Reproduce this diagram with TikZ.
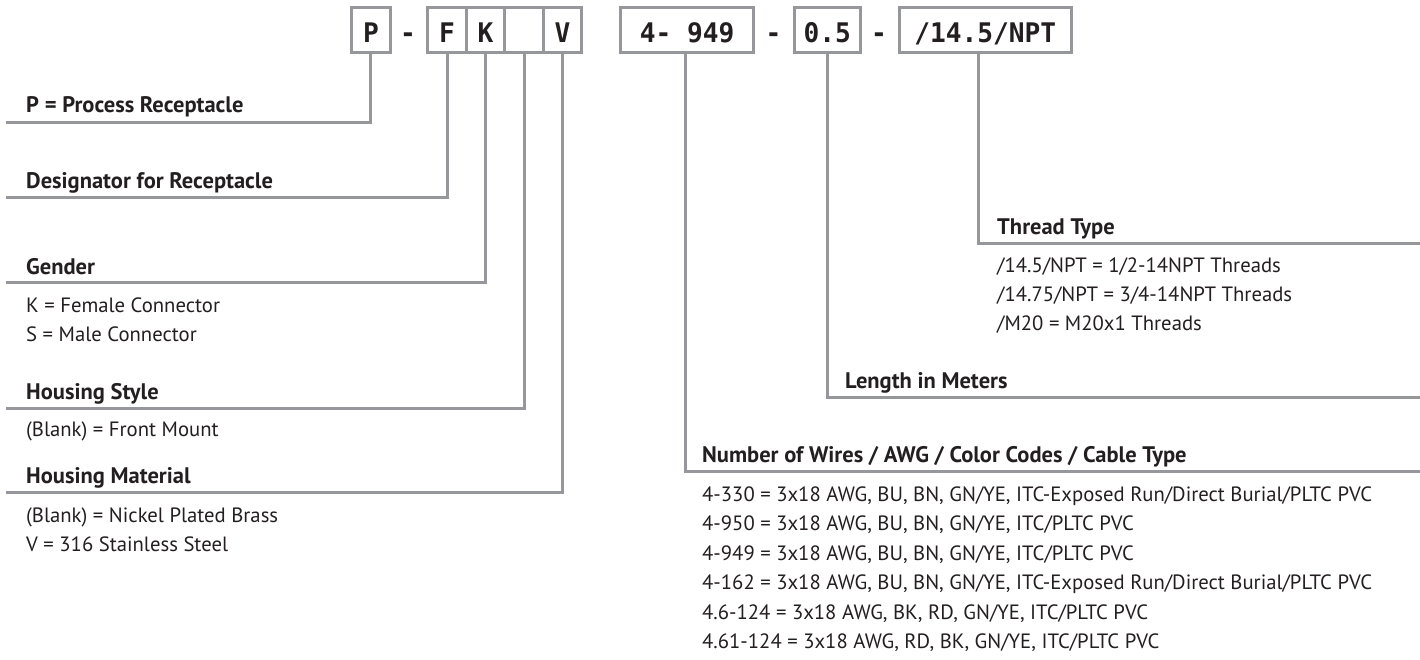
\documentclass[tikz,border=0pt]{standalone}
\usepackage{fontspec}
\setmainfont{PT Sans}
\newfontfamily\boxfont[FakeStretch=0.97,BoldFont={* Bold}]{DejaVu Sans Mono}
\definecolor{ln}{RGB}{150,151,154}
\definecolor{tx}{RGB}{35,31,32}
\tikzset{
  codebox/.style={draw=ln, line width=3pt, minimum height=45pt, inner sep=0pt,
    text height=25pt, text depth=0pt, text=tx,
    font=\boxfont\bfseries\fontsize{27}{30}\selectfont},
  dashsym/.style={anchor=base, inner sep=0pt, text=tx,
    font=\boxfont\bfseries\fontsize{27}{30}\selectfont},
  hdr/.style={anchor=base west, inner sep=0pt, text=tx,
    font=\bfseries\fontsize{22.5}{25}\selectfont},
  bodytxt/.style={anchor=base west, inner sep=0pt, text=tx,
    font=\fontsize{20.7}{23}\selectfont},
  conn/.style={draw=ln, line width=3pt}
}
\begin{document}
\begin{tikzpicture}[x=1pt,y=-1pt]
\useasboundingbox (0,0) rectangle (1420,659);
% code boxes
\node[codebox, minimum width=38.7pt] (bP) at (370.9,29.5) {P};
\node[dashsym] (d0) at (408,42) {-};
\node[codebox, minimum width=38.5pt] (bF) at (447,29.5) {F};
\node[codebox, minimum width=38.5pt] (bK) at (485.5,29.5) {K};
\node[codebox, minimum width=38.5pt] (bB) at (524,29.5) {};
\node[codebox, minimum width=38.5pt] (bV) at (562.5,29.5) {V};
\node[codebox, minimum width=132.7pt] (bW) at (687.2,29.5) {4-\ 949};
\node[dashsym] (d1) at (773.5,42) {-};
\node[codebox, minimum width=66pt] (bL) at (827.2,29.5) {0.5};
\node[dashsym] (d2) at (879,42) {-};
\node[codebox, minimum width=172pt] (bT) at (985.2,29.5) {/14.5/NPT};
% connector ends
\coordinate (eP) at (6,122);
\coordinate (eF) at (6,197);
\coordinate (eK) at (6,282);
\coordinate (eB) at (6,408);
\coordinate (eV) at (6,492);
\coordinate (eT) at (1420,243);
\coordinate (eL) at (1420,397);
\coordinate (eW) at (1420,471.5);
% connectors
\draw[conn] (bP.south) |- (eP);
\draw[conn] (bF.south) |- (eF);
\draw[conn] (bK.south) |- (eK);
\draw[conn] (bB.south) |- (eB);
\draw[conn] (bV.south) |- (eV);
\draw[conn] ([xshift=-7pt]bT.south) |- (eT);
\draw[conn] (bL.south) |- (eL);
\draw[conn] ([xshift=-2pt]bW.south) |- (eW);
% left texts
\node[hdr] (tP) at (26,112) {P = Process Receptacle};
\node[hdr] (tF) at (26,188) {Designator for Receptacle};
\node[hdr] (tK) at (26,274) {Gender};
\node[bodytxt] (tK1) at (26,312) {K = Female Connector};
\node[bodytxt] (tK2) at (26,341) {S = Male Connector};
\node[hdr] (tB) at (26,399) {Housing Style};
\node[bodytxt] (tB1) at (26,436) {(Blank) = Front Mount};
\node[hdr] (tV) at (26,483) {Housing Material};
\node[bodytxt] (tV1) at (26,522) {(Blank) = Nickel Plated Brass};
\node[bodytxt] (tV2) at (26,551) {V = 316 Stainless Steel};
% right texts
\node[hdr] (tT) at (997,234) {Thread Type};
\node[bodytxt] (tT1) at (997,272) {/14.5/NPT = 1/2-14NPT Threads};
\node[bodytxt] (tT2) at (997,301) {/14.75/NPT = 3/4-14NPT Threads};
\node[bodytxt] (tT3) at (997,330) {/M20 = M20x1 Threads};
\node[hdr] (tL) at (845,388) {Length in Meters};
\node[hdr] (tW) at (702,462.5) {Number of Wires / AWG / Color Codes / Cable Type};
\node[bodytxt] (tW1) at (702,501) {4-330 = 3x18 AWG, BU, BN, GN/YE, ITC-Exposed Run/Direct Burial/PLTC PVC};
\node[bodytxt] (tW2) at (702,530.5) {4-950 = 3x18 AWG, BU, BN, GN/YE, ITC/PLTC PVC};
\node[bodytxt] (tW3) at (702,560) {4-949 = 3x18 AWG, BU, BN, GN/YE, ITC/PLTC PVC};
\node[bodytxt] (tW4) at (702,589.5) {4-162 = 3x18 AWG, BU, BN, GN/YE, ITC-Exposed Run/Direct Burial/PLTC PVC};
\node[bodytxt] (tW5) at (702,619) {4.6-124 = 3x18 AWG, BK, RD, GN/YE, ITC/PLTC PVC};
\node[bodytxt] (tW6) at (702,648.5) {4.61-124 = 3x18 AWG, RD, BK, GN/YE, ITC/PLTC PVC};
\end{tikzpicture}
\end{document}
